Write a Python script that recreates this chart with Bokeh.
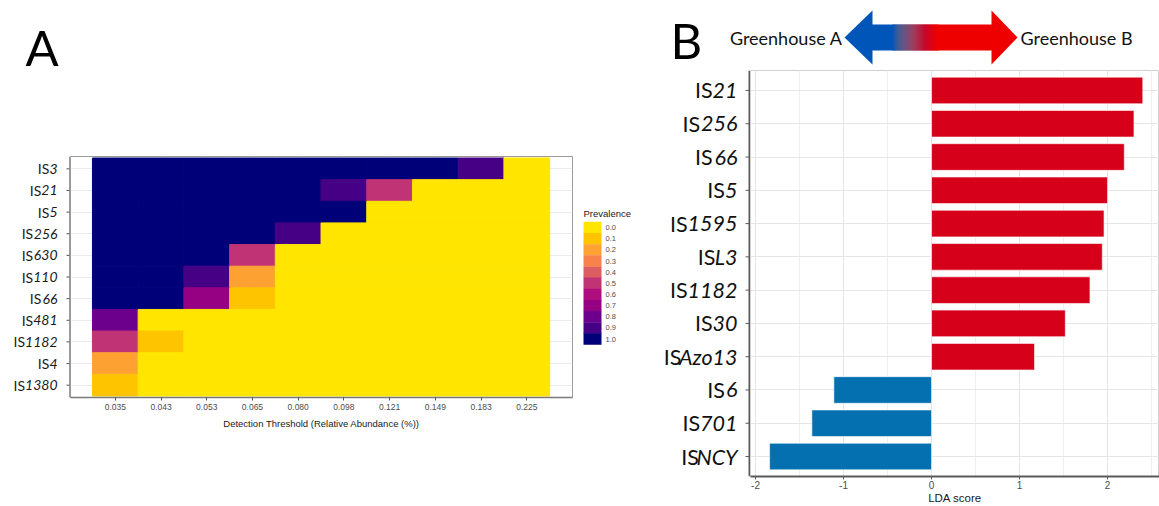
from bokeh.plotting import figure
from bokeh.models import (ColumnDataSource, LinearColorMapper, FixedTicker,
                          Range1d, SingleIntervalTicker)
from bokeh.layouts import row, column
from bokeh.transform import factor_cmap
from bokeh.core.properties import value
from bokeh.embed import file_html
from bokeh.resources import INLINE

# ---------------- data: panel A (core-microbiome heatmap) ----------------
heat_rows = ["IS3", "IS21", "IS5", "IS256", "IS630", "IS110", "IS66",
             "IS481", "IS1182", "IS4", "IS1380"]
thresholds = ["0.035", "0.043", "0.053", "0.065", "0.080",
              "0.098", "0.121", "0.149", "0.183", "0.225"]
prev_IS3 = [1.0, 1.0, 1.0, 1.0, 1.0, 1.0, 1.0, 1.0, 0.9, 0.0]
prev_IS21 = [1.0, 1.0, 1.0, 1.0, 1.0, 0.9, 0.5, 0.0, 0.0, 0.0]
prev_IS5 = [1.0, 1.0, 1.0, 1.0, 1.0, 1.0, 0.0, 0.0, 0.0, 0.0]
prev_IS256 = [1.0, 1.0, 1.0, 1.0, 0.9, 0.0, 0.0, 0.0, 0.0, 0.0]
prev_IS630 = [1.0, 1.0, 1.0, 0.5, 0.0, 0.0, 0.0, 0.0, 0.0, 0.0]
prev_IS110 = [1.0, 1.0, 0.9, 0.2, 0.0, 0.0, 0.0, 0.0, 0.0, 0.0]
prev_IS66 = [1.0, 1.0, 0.7, 0.1, 0.0, 0.0, 0.0, 0.0, 0.0, 0.0]
prev_IS481 = [0.8, 0.0, 0.0, 0.0, 0.0, 0.0, 0.0, 0.0, 0.0, 0.0]
prev_IS1182 = [0.5, 0.1, 0.0, 0.0, 0.0, 0.0, 0.0, 0.0, 0.0, 0.0]
prev_IS4 = [0.2, 0.0, 0.0, 0.0, 0.0, 0.0, 0.0, 0.0, 0.0, 0.0]
prev_IS1380 = [0.1, 0.0, 0.0, 0.0, 0.0, 0.0, 0.0, 0.0, 0.0, 0.0]
prevalence = [prev_IS3, prev_IS21, prev_IS5, prev_IS256, prev_IS630, prev_IS110,
              prev_IS66, prev_IS481, prev_IS1182, prev_IS4, prev_IS1380]
legend_ticks = [0.0, 0.1, 0.2, 0.3, 0.4, 0.5, 0.6, 0.7, 0.8, 0.9, 1.0]
heat_palette = ["#FFE500", "#FFC400", "#FDA132", "#F7834A", "#DD5E62", "#C03375",
                "#B00E7E", "#960082", "#6C008C", "#460085", "#000078"]

# ---------------- data: panel B (LDA scores) ----------------
lda_features = ["IS21", "IS256", "IS66", "IS5", "IS1595", "ISL3", "IS1182",
                "IS30", "ISAzo13", "IS6", "IS701", "ISNCY"]
lda_scores = [2.40, 2.30, 2.19, 2.00, 1.96, 1.94, 1.80, 1.52, 1.17, -1.11, -1.36, -1.84]
lda_groups = ["Greenhouse B"] * 9 + ["Greenhouse A"] * 3
group_names = ["Greenhouse A", "Greenhouse B"]
group_colors = ["#0570B0", "#D7001A"]
lda_ticks = [-2, -1, 0, 1, 2]

# ---------------- styling helpers ----------------
LABEL_FONT = "Lato"
GG_FONT = "Liberation Sans"
LATO_W = {"I": 0.29, "S": 0.48, "L": 0.45, "A": 0.58, "z": 0.38, "o": 0.49,
          "N": 0.66, "C": 0.58, "Y": 0.55}


def text_w(s, size):
    return sum(LATO_W.get(c, 0.58) for c in s) * size


def split_name(s):
    return s[:2], s[2:]


def bare(p):
    p.grid.visible = False
    p.outline_line_color = None
    p.background_fill_color = "white"
    p.border_fill_color = "white"


def strip(width, height, xr, yr, top=0, bottom=0):
    p = figure(width=width, height=height, x_range=xr, y_range=yr,
               output_backend="svg", toolbar_location=None,
               min_border_left=0, min_border_right=0,
               min_border_top=top, min_border_bottom=bottom,
               x_axis_location=None, y_axis_location=None)
    bare(p)
    return p


H = 506
# ============================ PANEL A ============================
nr, nc = len(heat_rows), len(thresholds)
xs, ys, vs = [], [], []
for i, rv in enumerate(prevalence):
    for j, v in enumerate(rv):
        xs.append(j)
        ys.append(nr - 1 - i)
        vs.append(v)
srcA = ColumnDataSource(dict(x=xs, y=ys, v=vs))

A_LEFT, A_TOP, A_W, A_H = 70, 156, 502, 241       # frame box in page pixels
HEAD_A = 100
BOT_A = H - A_TOP - A_H
xrA = Range1d(-0.98, nc)
yrA = Range1d(-0.57, nr - 1 + 0.57)
pA = figure(width=A_W + 1, height=H - HEAD_A, x_range=xrA, y_range=yrA,
            output_backend="svg", toolbar_location=None, y_axis_location=None,
            min_border_left=0, min_border_right=1, min_border_top=A_TOP - HEAD_A,
            min_border_bottom=BOT_A)
pA.background_fill_color = "white"
pA.border_fill_color = "white"
pA.outline_line_color = "#9A9A9A"

mapper = LinearColorMapper(palette=heat_palette, low=-0.05, high=1.05)
pA.rect(x="x", y="y", width=1, height=1, source=srcA,
        fill_color={"field": "v", "transform": mapper},
        line_color={"field": "v", "transform": mapper}, line_width=1)

pA.xaxis.ticker = FixedTicker(ticks=list(range(nc)))
pA.xaxis.major_label_overrides = {j: thresholds[j] for j in range(nc)}
pA.xgrid.ticker = FixedTicker(ticks=list(range(nc)))
pA.ygrid.ticker = FixedTicker(ticks=list(range(nr)))
pA.grid.grid_line_color = "#EBEBEB"
ax = pA.xaxis[0]
ax.axis_line_color = "#7A7A7A"
ax.axis_line_width = 1.3
ax.major_tick_line_color = "#555555"
ax.major_tick_in = 0
ax.major_tick_out = 3
ax.minor_tick_line_color = None
ax.major_label_text_font = GG_FONT
ax.major_label_text_font_size = "8.5px"
ax.major_label_text_color = "#4D4D4D"
ax.major_label_standoff = 3
ax.axis_label = "Detection Threshold (Relative Abundance (%))"
ax.axis_label_text_font = GG_FONT
ax.axis_label_text_font_size = "9.5px"
ax.axis_label_text_font_style = "normal"
ax.axis_label_text_color = "#1A1A1A"
ax.axis_label_standoff = 5

# panel letter A
headA = strip(660, HEAD_A, Range1d(0, 660), Range1d(HEAD_A, 0))
headA.text(x=[25], y=[46.5], text=["A"], text_font=value(LABEL_FONT),
           text_font_size="49px", text_align="left", text_baseline="middle",
           text_color="black")

# left strip of panel A: row labels, ticks, axis line (shares the heatmap's y scale)
labA = strip(A_LEFT, H - HEAD_A, Range1d(0, A_LEFT), yrA, A_TOP - HEAD_A, BOT_A)
FA = 14
rowsA = [nr - 1 - i for i in range(nr)]
preA = [split_name(s)[0] for s in heat_rows]
sufA = [split_name(s)[1] for s in heat_rows]
labA.text(x=[57] * nr, y=rowsA, text=sufA, text_font=value(LABEL_FONT),
          text_font_style="italic", text_font_size=f"{FA}px", text_align="right",
          text_baseline="middle", text_color="#1A1A1A")
labA.text(x=[57 - text_w(s, FA) for s in sufA], y=rowsA, text=preA,
          text_font=value(LABEL_FONT), text_font_size=f"{FA}px", text_align="right",
          text_baseline="middle", text_color="#1A1A1A")
labA.segment(x0=[66] * nr, x1=[70] * nr, y0=rowsA, y1=rowsA, line_color="#555555",
             line_width=1)
labA.segment(x0=[69.4], x1=[69.4], y0=[yrA.start], y1=[yrA.end], line_color="#7A7A7A",
             line_width=1.3)

# legend strip of panel A (pixel coordinates inside the aligned frame)
LG_X0 = A_LEFT + A_W + 1
legA = strip(660 - LG_X0, H - HEAD_A, Range1d(LG_X0, 660),
             Range1d(A_TOP + A_H, A_TOP), A_TOP - HEAD_A, BOT_A)
SW_TOP, SW_H = 221.5, 11.15
nl = len(legend_ticks)
srcL = ColumnDataSource(dict(
    x=[592] * nl, y=[SW_TOP + (k + 0.5) * SW_H for k in range(nl)], v=legend_ticks,
    tx=[605] * nl, lab=[f"{t:.1f}" for t in legend_ticks]))
legA.rect(x="x", y="y", width=18, height=SW_H + 0.3, source=srcL,
          fill_color={"field": "v", "transform": mapper}, line_color=None)
legA.text(x="tx", y="y", text="lab", source=srcL,
          text_font=value(GG_FONT), text_font_size="7.5px", text_baseline="middle",
          text_color="#4D4D4D")
legA.text(x=[583], y=[213], text=["Prevalence"], text_font=value(GG_FONT),
          text_font_size="9.5px", text_baseline="middle", text_color="#1A1A1A")

# ============================ PANEL B ============================
nb = len(lda_features)
rowsB = [nb - 1 - i for i in range(nb)]
srcB = ColumnDataSource(dict(y=rowsB, score=lda_scores, group=lda_groups))
B_LEFT, B_TOP, B_BOTTOM, HEAD_H = 750, 70, 478, 68
xrB = Range1d(-2.057, 2.59)
yrB = Range1d(-0.6, nb - 1 + 0.6)
pB = figure(width=1159 - B_LEFT, height=H - HEAD_H, x_range=xrB, y_range=yrB,
            output_backend="svg", toolbar_location=None, y_axis_location=None,
            min_border_left=0, min_border_right=0, min_border_top=B_TOP - HEAD_H,
            min_border_bottom=H - B_BOTTOM)
pB.background_fill_color = "white"
pB.border_fill_color = "white"
pB.outline_line_color = "#D0D0D0"

pB.hbar(y="y", left=0, right="score", height=0.8, source=srcB,
        fill_color=factor_cmap("group", palette=group_colors, factors=group_names),
        line_color="white", line_alpha=0.6, line_width=1)

bx = pB.xaxis[0]
bx.ticker = SingleIntervalTicker(interval=1, num_minor_ticks=2)
bx.major_label_overrides = {t: str(t) for t in lda_ticks}
pB.ygrid.ticker = FixedTicker(ticks=list(range(nb)))
pB.grid.grid_line_color = "#E6E6E6"
pB.xgrid.minor_grid_line_color = "#EFEFEF"
bx.axis_line_color = "#5A5A5A"
bx.axis_line_width = 2
bx.major_tick_line_color = "#5A5A5A"
bx.major_tick_in = 0
bx.major_tick_out = 3
bx.minor_tick_line_color = None
bx.major_label_text_font = GG_FONT
bx.major_label_text_font_size = "10px"
bx.major_label_text_color = "#4D4D4D"
bx.major_label_standoff = 0
bx.axis_label = "LDA score"
bx.axis_label_text_font = GG_FONT
bx.axis_label_text_font_size = "11.5px"
bx.axis_label_text_font_style = "normal"
bx.axis_label_text_color = "#1A1A1A"
bx.axis_label_standoff = 0

# left strip of panel B (shares the bar chart's y scale)
labB = strip(B_LEFT - 660, H - HEAD_H, Range1d(660, B_LEFT), yrB,
             B_TOP - HEAD_H, H - B_BOTTOM)
FB = 21.5
preB = [split_name(s)[0] for s in lda_features]
sufB = [split_name(s)[1] for s in lda_features]
labB.text(x=[737] * nb, y=rowsB, text=sufB, text_font=value(LABEL_FONT),
          text_font_style="italic", text_font_size=f"{FB}px", text_align="right",
          text_baseline="middle", text_color="#111111")
labB.text(x=[737 - text_w(s, FB) for s in sufB], y=rowsB, text=preB,
          text_font=value(LABEL_FONT), text_font_size=f"{FB}px", text_align="right",
          text_baseline="middle", text_color="#111111")
labB.segment(x0=[745] * nb, x1=[750] * nb, y0=rowsB, y1=rowsB, line_color="#5A5A5A",
             line_width=1)
labB.segment(x0=[749], x1=[749], y0=[yrB.start], y1=[yrB.end], line_color="#5A5A5A",
             line_width=2)

# ============================ header for B (arrow) ============================
pH = strip(1159 - 660, HEAD_H, Range1d(660, 1159), Range1d(HEAD_H, 0))

BLUE, RED = "#0055B8", "#EE0000"
tipL, baseL, g0, g1, baseR, tipR = 844, 872, 892, 937, 991, 1017
ym, ht, hb, st, sb = 37, 10, 64, 24, 50
pH.patch([tipL, baseL, baseL, g0 + 1, g0 + 1, baseL, baseL],
         [ym, ht, st, st, sb, sb, hb], fill_color=BLUE, line_color=None)

stops = [(892, (0x00, 0x55, 0xB8)), (897, (0x3E, 0x5C, 0x98)), (904, (0x6A, 0x54, 0x82)),
         (913, (0x9E, 0x3E, 0x5E)), (925, (0xC8, 0x06, 0x2C)), (937, (0xEE, 0x00, 0x00))]


def grad_color(xp):
    for (xa, ca), (xb, cb_) in zip(stops[:-1], stops[1:]):
        if xa <= xp <= xb:
            t = (xp - xa) / (xb - xa)
            c = [round(ca[k] + (cb_[k] - ca[k]) * t) for k in range(3)]
            return "#%02X%02X%02X" % tuple(c)
    return "#EE0000"


lefts = list(range(g0, g1))
pH.quad(left=lefts, right=[v + 2 for v in lefts], top=[st] * len(lefts),
        bottom=[sb] * len(lefts), fill_color=[grad_color(v + 0.5) for v in lefts],
        line_color=None)
pH.patch([g1, baseR, baseR, tipR, baseR, baseR, g1],
         [st, st, ht, ym, hb, sb, sb], fill_color=RED, line_color=None)

pH.text(x=[tipL - 2], y=[ym], text=["Greenhouse A"], text_font=value(LABEL_FONT),
        text_font_size="18px", text_align="right", text_baseline="middle",
        text_color="#111111")
pH.text(x=[tipR + 3], y=[ym], text=["Greenhouse B"], text_font=value(LABEL_FONT),
        text_font_size="18px", text_align="left", text_baseline="middle",
        text_color="#111111")
pH.text(x=[670], y=[HEAD_H], text=["B"], text_font=value(LABEL_FONT),
        text_font_size="49px", text_align="left", text_baseline="bottom",
        text_color="black")

left = column(headA, row(labA, pA, legA))
right = column(pH, row(labB, pB))
layout = row(left, right)
open("out.html", "w").write(file_html(layout, INLINE))
